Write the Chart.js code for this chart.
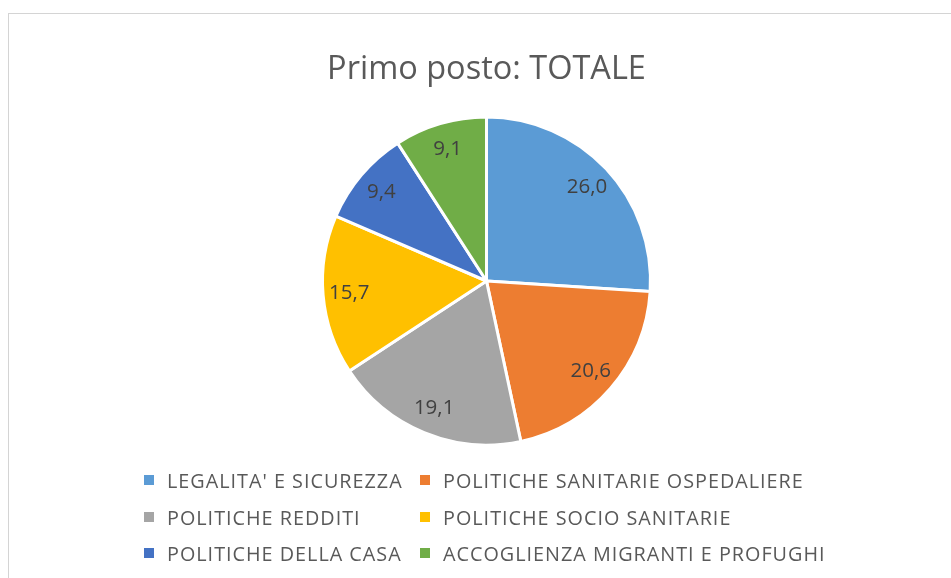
<!DOCTYPE html>
<html>
<head>
<meta charset="utf-8">
<script src="https://cdn.jsdelivr.net/npm/chart.js@4/dist/chart.umd.min.js"></script>
<style>
  html, body { margin: 0; padding: 0; background: #fff; overflow: hidden; }
  #wrap { position: relative; width: 951px; height: 578px; }
  #frame { position: absolute; left: 8px; top: 13px; width: 1000px; height: 600px; border: 1px solid #d4d4d4; box-sizing: border-box; }
  #c { position: absolute; left: 0; top: 0; }
  #legend { position: absolute; left: 0; top: 0; width: 951px; height: 578px; pointer-events: none; }
  .item { position: absolute; height: 20px; display: flex; align-items: center; font-family: "Open Sans", sans-serif; font-size: 19.8px; color: #595959; letter-spacing: 1px; white-space: nowrap; }
  .box { width: 10px; height: 10px; margin-right: 13px; }
</style>
</head>
<body>
<div id="wrap">
  <div id="frame"></div>
  <canvas id="c" width="951" height="578"></canvas>
  <div id="legend"></div>
</div>
<script>
const categories = [
  "LEGALITA' E SICUREZZA",
  "POLITICHE SANITARIE OSPEDALIERE",
  "POLITICHE REDDITI",
  "POLITICHE SOCIO SANITARIE",
  "POLITICHE DELLA CASA",
  "ACCOGLIENZA MIGRANTI E PROFUGHI"
];
const values = [26.0, 20.6, 19.1, 15.7, 9.4, 9.1];
const colors = ["#5B9BD5", "#ED7D31", "#A5A5A5", "#FFC000", "#4472C4", "#70AD47"];
const chartTitle = "Primo posto: TOTALE";

// labels inside the slices, near the edge (like Excel "best fit")
const sliceLabels = {
  id: "sliceLabels",
  afterDatasetsDraw(chart) {
    const ctx = chart.ctx;
    const meta = chart.getDatasetMeta(0);
    ctx.save();
    ctx.font = "20.5px 'Open Sans', sans-serif";
    ctx.fillStyle = "#404040";
    ctx.textAlign = "center";
    ctx.textBaseline = "middle";
    meta.data.forEach((arc, i) => {
      const mid = (arc.startAngle + arc.endAngle) / 2;
      const r = arc.outerRadius * 0.84;
      const x = arc.x + Math.cos(mid) * r;
      const y = arc.y + Math.sin(mid) * r;
      ctx.fillText(values[i].toFixed(1).replace(".", ","), x, y);
    });
    ctx.restore();
  }
};

new Chart(document.getElementById("c"), {
  type: "pie",
  data: {
    labels: categories,
    datasets: [{
      data: values,
      backgroundColor: colors,
      borderColor: "#ffffff",
      borderWidth: 3
    }]
  },
  options: {
    responsive: false,
    animation: false,
    layout: { padding: { top: 0, bottom: 131, left: 321, right: 299 } },
    plugins: {
      legend: { display: false },
      tooltip: { enabled: false },
      title: {
        display: true,
        text: chartTitle,
        color: "#595959",
        font: { family: "'Open Sans', sans-serif", size: 32.5, weight: "normal" },
        padding: { top: 50, bottom: 26 }
      }
    }
  },
  plugins: [sliceLabels]
});

// legend in a 2-column grid like the original
const legend = document.getElementById("legend");
const colX = [144, 420];
const rowY = [470, 507, 543];
categories.forEach((name, i) => {
  const el = document.createElement("div");
  el.className = "item";
  el.style.left = colX[i % 2] + "px";
  el.style.top = rowY[Math.floor(i / 2)] + "px";
  el.innerHTML = '<span class="box" style="background:' + colors[i] + '"></span>' + name;
  legend.appendChild(el);
});
</script>
</body>
</html>
